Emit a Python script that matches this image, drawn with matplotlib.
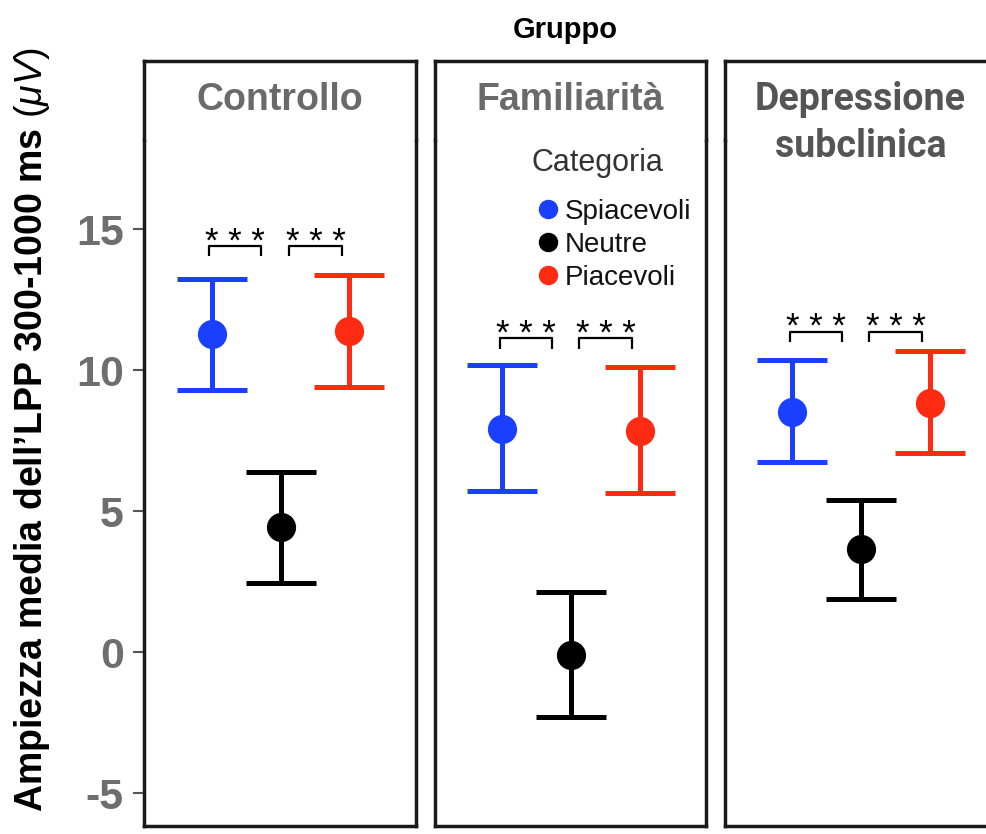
import matplotlib.pyplot as plt
from matplotlib.lines import Line2D

plt.rcParams['font.family'] = ['Liberation Sans', 'DejaVu Sans']
plt.rcParams['axes.unicode_minus'] = False
plt.rcParams['mathtext.fontset'] = 'custom'
plt.rcParams['mathtext.it'] = 'Liberation Sans:italic'
plt.rcParams['mathtext.rm'] = 'Liberation Sans'

# data
groups = ["Controllo", "Familiarità", "Depressione\nsubclinica"]
categories = ["Spiacevoli", "Neutre", "Piacevoli"]
cat_colors = ["#1b3fff", "#000000", "#ff2a12"]

means = {
    "Spiacevoli": [11.28, 7.92, 8.50],
    "Neutre": [4.42, -0.11, 3.64],
    "Piacevoli": [11.39, 7.85, 8.84],
}
ci_low = {
    "Spiacevoli": [9.29, 5.70, 6.75],
    "Neutre": [2.46, -2.32, 1.87],
    "Piacevoli": [9.41, 5.63, 7.07],
}
ci_high = {
    "Spiacevoli": [13.24, 10.17, 10.35],
    "Neutre": [6.39, 2.13, 5.39],
    "Piacevoli": [13.36, 10.10, 10.68],
}

# significance brackets (*** between Spiacevoli-Neutre and Neutre-Piacevoli)
bracket_y = [14.40, 11.13, 11.36]
bracket_spans = [(0.96, 1.72), (2.12, 2.89)]
bracket_label = "* * *"

W, H = 987, 834
fig = plt.figure(figsize=(W / 100, H / 100), dpi=100)

panel_left = [144.5, 435, 725]
panel_w = 271
panel_top, panel_bottom = 140, 826
strip_top = 61

xs = [1, 2, 3]
axes = []
for g, left in enumerate(panel_left):
    ax = fig.add_axes([left / W, (H - panel_bottom) / H, panel_w / W,
                       (panel_bottom - panel_top) / H])
    axes.append(ax)
    for c, cat in enumerate(categories):
        m = means[cat][g]
        err = [[m - ci_low[cat][g]], [ci_high[cat][g] - m]]
        ax.errorbar(xs[c], m, yerr=err, fmt='o', color=cat_colors[c],
                    markersize=20, elinewidth=3.6, capsize=25, capthick=3.6)
    # brackets
    by = bracket_y[g]
    for (x0, x1) in bracket_spans:
        ax.plot([x0, x0, x1, x1], [by - 0.37, by, by, by - 0.37],
                color='black', lw=1.6, solid_capstyle='butt')
        ax.text((x0 + x1) / 2, by - 0.2, bracket_label, ha='center',
                va='baseline', fontsize=25, color='black')
    ax.set_xlim(0.02, 3.96)
    ax.set_ylim(-6.17, 18.16)
    ax.set_xticks([])
    for s in ax.spines.values():
        s.set_linewidth(2.5)
        s.set_color('#1a1a1a')
    ax.spines['top'].set_visible(False)
    if g == 0:
        ax.set_yticks([-5, 0, 5, 10, 15])
        ax.tick_params(axis='y', length=8, width=1.5, color='#555555',
                       labelsize=31, labelcolor='#6e6e6e', pad=7)
        for lab in ax.get_yticklabels():
            lab.set_fontweight('bold')
    else:
        ax.set_yticks([])

    # facet strip, open towards the panel below
    sax = fig.add_axes([left / W, (H - panel_top) / H, panel_w / W,
                        (panel_top - strip_top) / H])
    sax.set_xticks([])
    sax.set_yticks([])
    for s in sax.spines.values():
        s.set_linewidth(2.5)
        s.set_color('#1a1a1a')
    sax.spines['bottom'].set_visible(False)
    if g < 2:
        sax.text(0.5, 0.5, groups[g], transform=sax.transAxes, ha='center',
                 va='center', fontsize=27, fontweight='bold', color='#6a6a6a')
    else:
        sax.text(0.5, (panel_top - 123) / (panel_top - strip_top), groups[g],
                 transform=sax.transAxes, ha='center', va='center',
                 fontsize=27, fontweight='bold', color='#555555',
                 family='Roboto', linespacing=1.32, clip_on=False, zorder=5)

# legend inside the second panel
fig.text(532 / W, 1 - 163 / H, "Categoria", ha='left', va='center',
         fontsize=22, color='#333333')
handles = [Line2D([], [], marker='o', linestyle='none', color=c, markersize=13)
           for c in cat_colors]
leg = axes[1].legend(handles, categories, loc='upper left',
                     bbox_to_anchor=(540 / W, 1 - 199 / H),
                     bbox_transform=fig.transFigure,
                     frameon=False, fontsize=20,
                     handlelength=0.6, handletextpad=0.3, labelspacing=0.25,
                     borderpad=0, borderaxespad=0)
for t in leg.get_texts():
    t.set_color('#111111')

fig.text(565 / W, 1 - 30 / H, "Gruppo", ha='center', va='center',
         fontsize=21, fontweight='bold')
fig.text(32 / W, 1 - 48 / H, "Ampiezza media dell\u2019LPP 300-1000 ms $(\\mu V)$",
         rotation=90, ha='center', va='top', fontsize=27, fontweight='bold')

fig.savefig("out.png", dpi=100)
